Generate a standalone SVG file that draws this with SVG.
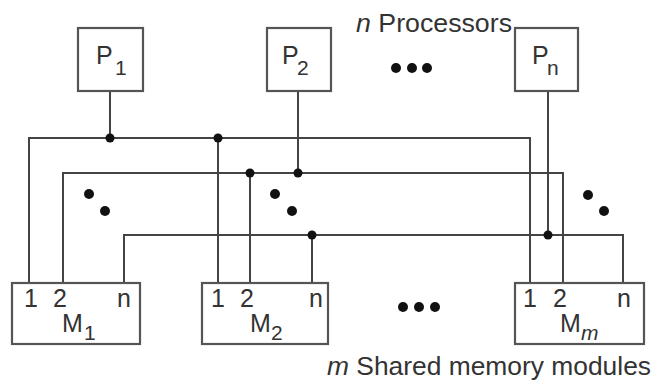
<svg xmlns="http://www.w3.org/2000/svg" width="653" height="383" viewBox="0 0 653 383">
<style>
.box{fill:#fff;stroke:#555;stroke-width:2.2}
.w{fill:none;stroke:#444;stroke-width:2}
.t{font-family:"Liberation Sans",Arial,sans-serif;fill:#333}
.lbl{font-size:25px}
.sub{font-size:21px}
.cap{font-size:26px}
.d{fill:#111}
</style>
<rect width="653" height="383" fill="#fff"/>
<g id="connectors">
<path class="w" d="M110 91V138M298 91V173M548 91V235"/>
<path class="w" d="M29 283V138H530V283M218 138V283"/>
<path class="w" d="M63 283V173H563V283M250 173V283"/>
<path class="w" d="M124 283V235H623V283M312 235V283"/>
<circle class="d" cx="110" cy="138" r="4.5"/>
<circle class="d" cx="218" cy="138" r="4.5"/>
<circle class="d" cx="250" cy="173" r="4.5"/>
<circle class="d" cx="298" cy="173" r="4.5"/>
<circle class="d" cx="312" cy="235" r="4.5"/>
<circle class="d" cx="548" cy="235" r="4.5"/>
</g>
<g id="P1"><rect class="box" x="78" y="28" width="65" height="63"/><text class="t lbl" x="96" y="64">P</text><text class="t sub" x="115" y="75">1</text></g>
<g id="P2"><rect class="box" x="267" y="28" width="64" height="63"/><text class="t lbl" x="282" y="64">P</text><text class="t sub" x="297" y="75">2</text></g>
<g id="Pn"><rect class="box" x="515" y="28" width="63" height="63"/><text class="t lbl" x="532" y="64">P</text><text class="t sub" x="547" y="75">n</text></g>
<g id="M1"><rect class="box" x="12" y="283" width="128" height="61"/>
<text class="t lbl" x="24" y="307">1</text><text class="t lbl" x="53" y="307">2</text><text class="t lbl" x="117" y="307">n</text>
<text class="t lbl" x="62" y="332">M</text><text class="t sub" x="84" y="340">1</text></g>
<g id="M2"><rect class="box" x="202" y="283" width="126" height="61"/>
<text class="t lbl" x="211" y="307">1</text><text class="t lbl" x="240" y="307">2</text><text class="t lbl" x="309" y="307">n</text>
<text class="t lbl" x="250" y="332">M</text><text class="t sub" x="271" y="340">2</text></g>
<g id="Mm"><rect class="box" x="515" y="283" width="129" height="61"/>
<text class="t lbl" x="523" y="307">1</text><text class="t lbl" x="553" y="307">2</text><text class="t lbl" x="617" y="307">n</text>
<text class="t lbl" x="560" y="332">M</text><text class="t sub" x="581" y="340" font-style="italic">m</text></g>
<g id="ellipses">
<circle class="d" cx="396" cy="68" r="5"/><circle class="d" cx="412" cy="68" r="5"/><circle class="d" cx="427" cy="68" r="5"/>
<circle class="d" cx="403" cy="307" r="5"/><circle class="d" cx="419" cy="307" r="5"/><circle class="d" cx="435" cy="307" r="5"/>
<circle class="d" cx="89" cy="194" r="5"/><circle class="d" cx="105" cy="211" r="5"/>
<circle class="d" cx="275" cy="194" r="5"/><circle class="d" cx="292" cy="211" r="5"/>
<circle class="d" cx="588" cy="195" r="5"/><circle class="d" cx="604" cy="211" r="5"/>
</g>
<text class="t cap" x="356" y="32" textLength="156" lengthAdjust="spacingAndGlyphs"><tspan font-style="italic">n</tspan> Processors</text>
<text class="t cap" x="327" y="375" textLength="324" lengthAdjust="spacingAndGlyphs"><tspan font-style="italic">m</tspan> Shared memory modules</text>
</svg>
